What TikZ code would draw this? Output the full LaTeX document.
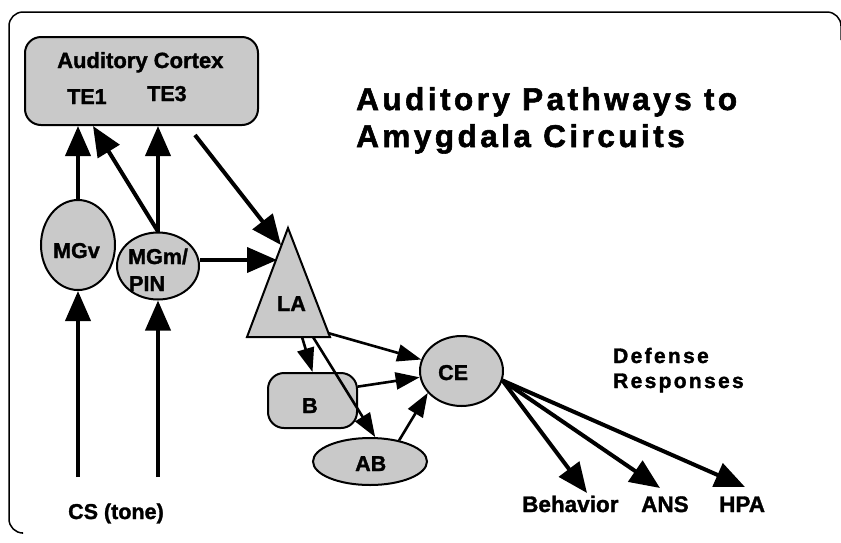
\documentclass[tikz,border=0pt]{standalone}
\usepackage{fontspec}
\setmainfont{Liberation Sans}
\usetikzlibrary{arrows.meta,calc,shapes.geometric}
\definecolor{shade}{gray}{0.79}
\tikzset{
  shp/.style={draw=black, line width=2pt, fill=shade, inner sep=0pt},
  oval/.style={shp, ellipse},
  rbox/.style={shp, rectangle, rounded corners=16pt},
  lbl/.style={inner sep=0pt, anchor=base west, font=\bfseries\fontsize{21.5}{21.5}\selectfont\addfontfeatures{FakeBold=1.5}},
  outlbl/.style={inner sep=0pt, anchor=base west, font=\bfseries\fontsize{22.5}{22.5}\selectfont\addfontfeatures{FakeBold=1.5}},
  titlelbl/.style={inner sep=0pt, anchor=base west, font=\bfseries\fontsize{31.5}{31.5}\selectfont\addfontfeatures{LetterSpace=11,FakeBold=1.8}},
  deflbl/.style={inner sep=0pt, anchor=base west, font=\bfseries\fontsize{21}{21}\selectfont\addfontfeatures{LetterSpace=11,FakeBold=1.5}},
  bigarr/.style={line width=4pt, -{Triangle[length=30pt,width=25pt]}},
  thinarr/.style={line width=2.6pt, -{Triangle[length=24pt,width=17pt]}},
  frame/.style={line width=1.5pt, rounded corners=14pt}
}
\begin{document}
\begin{tikzpicture}[x=1pt,y=-1pt]
\useasboundingbox (0,0) rectangle (841,542);
% outer frame
\draw[frame] (22,533) -- (9,533) -- (9,12) -- (841,12) -- (841,40);

% shapes
\node[rbox, minimum width=233pt, minimum height=88pt] (cortex) at (141.5,81) {};
\node[oval, minimum width=74pt, minimum height=90pt] (mgv) at (78,245) {};
\node[oval, minimum width=82pt, minimum height=67pt] (mgm) at (158,266) {};
\coordinate (laapex) at (288,228);
\coordinate (lal) at (247,337);
\coordinate (lar) at (330,337);
\draw[shp, line join=miter] (laapex) -- (lar) -- (lal) -- cycle;
\node[rbox, minimum width=89pt, minimum height=55pt] (b) at (312.5,400.5) {};
\node[oval, minimum width=83pt, minimum height=70pt] (ce) at (461.5,371) {};
\node[oval, minimum width=114pt, minimum height=47pt] (ab) at (370,461.5) {};

% labels
\node[lbl, font=\bfseries\fontsize{22}{22}\selectfont\addfontfeatures{FakeBold=1.5}] (tAC) at (57,68) {Auditory Cortex};
\node[lbl] (tTE1) at (67,104) {TE1};
\node[lbl] (tTE3) at (147,101) {TE3};
\node[lbl] (tMGv) at (53,258) {MGv};
\node[lbl] (tMGm) at (128,264) {MGm/};
\node[lbl] (tPIN) at (129,291) {PIN};
\node[lbl] (tLA) at (277,311) {LA};
\node[lbl] (tB) at (302,413) {B};
\node[lbl] (tCE) at (438,380) {CE};
\node[lbl] (tAB) at (355,471) {AB};
\node[outlbl] (beh) at (522,512) {Behavior};
\node[outlbl] (ans) at (641,512) {ANS};
\node[outlbl] (hpa) at (719,512) {HPA};
\node[lbl] (cs) at (68,519) {CS (tone)};
\node[titlelbl] (title1) at (356,110) {Auditory Pathways to};
\node[titlelbl] (title2) at (356,147) {Amygdala Circuits};
\node[deflbl] (def1) at (613,363) {Defense};
\node[deflbl] (def2) at (613,388) {Responses};

% connectors
\coordinate (csl) at (78,477);
\coordinate (csr) at (158,477);
\draw[bigarr] (csl) -- (mgv.south);
\draw[bigarr] (csr) -- (mgm.south);
\draw[bigarr] (mgv.north) -- (mgv.north |- cortex.south);
\coordinate (te1in) at (93,126);
\draw[bigarr] (mgm.north) -- (te1in);
\draw[bigarr] (mgm.north) -- (mgm.north |- cortex.south);
\coordinate (ctxout) at (195,135);
\coordinate (lain) at (281,245);
\draw[bigarr] (ctxout) -- (lain);
\coordinate (lamid) at (277,260);
\draw[bigarr] (lamid -| mgm.east) -- (lamid);
\coordinate (laoutr) at (328,333);
\coordinate (laoutb) at (302,337);
\coordinate (laoutab) at (313,337);
\draw[thinarr] (laoutr) -- (ce);
\draw[thinarr] (laoutb) -- (b.north);
\draw[thinarr] (laoutab) -- (ab.78);
\draw[thinarr] (b.17) -- (ce);
\draw[thinarr] (ab.36) -- (ce.213);
\coordinate (tipbeh) at (587,493);
\coordinate (tipans) at (660,488);
\coordinate (tiphpa) at (745,487);
\draw[bigarr] (ce.347) -- (tipbeh);
\draw[bigarr] (ce.347) -- (tipans);
\draw[bigarr] (ce.347) -- (tiphpa);
\end{tikzpicture}
\end{document}
